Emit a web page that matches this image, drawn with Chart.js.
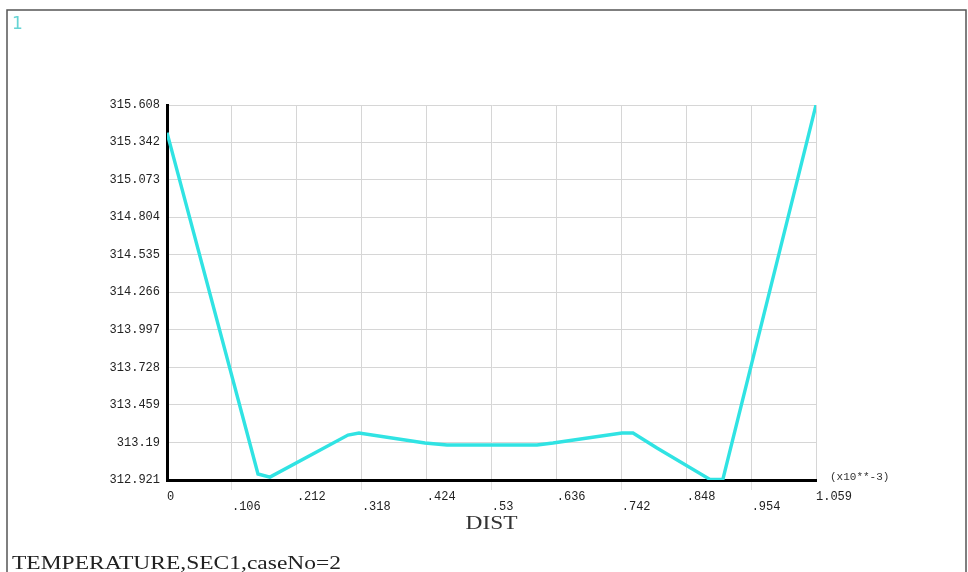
<!DOCTYPE html>
<html>
<head>
<meta charset="utf-8">
<script src="https://cdn.jsdelivr.net/npm/chart.js@4/dist/chart.umd.min.js"></script>
<style>
  html, body { margin: 0; padding: 0; background: #fff; }
  #wrap { width: 968px; height: 572px; position: relative; }
</style>
</head>
<body>
<div id="wrap"><canvas id="c" width="968" height="572"></canvas></div>
<script>
// Temperature along path SEC1 (distance in units of 1e-3)
const distValues   = [0, 0.1485, 0.168, 0.2953, 0.3133, 0.421, 0.4569, 0.6037, 0.6298, 0.7424, 0.7604, 0.7995, 0.886, 0.907, 1.059];
const temperatures = [315.41, 312.964, 312.942, 313.243, 313.258, 313.186, 313.172, 313.172, 313.186, 313.258, 313.258, 313.15, 312.925, 312.925, 315.608];

const xTickValues = [0, 0.106, 0.212, 0.318, 0.424, 0.53, 0.636, 0.742, 0.848, 0.954, 1.059];
const xTickLabels = ['0', '.106', '.212', '.318', '.424', '.53', '.636', '.742', '.848', '.954', '1.059'];
const yTickValues = [312.921, 313.19, 313.459, 313.728, 313.997, 314.266, 314.535, 314.804, 315.073, 315.342, 315.608];
const yTickLabels = ['312.921', '313.19', '313.459', '313.728', '313.997', '314.266', '314.535', '314.804', '315.073', '315.342', '315.608'];

const plotLabel   = '1';
const xAxisTitle  = 'DIST';
const xAxisScale  = '(x10**-3)';
const footerText  = 'TEMPERATURE,SEC1,caseNo=2';

const tickFont = { family: 'Liberation Mono', size: 12, lineHeight: 0.8 };

// Window frame and the annotation texts around the plot
const decorations = {
  id: 'decorations',
  afterDraw(chart) {
    const ctx = chart.ctx;
    const area = chart.chartArea;
    ctx.save();
    ctx.strokeStyle = '#555';
    ctx.lineWidth = 1.5;
    ctx.strokeRect(7, 10, 959, 580);

    ctx.fillStyle = '#66d4d4';
    ctx.font = '17px "DejaVu Sans"';
    ctx.textBaseline = 'alphabetic';
    ctx.textAlign = 'left';
    ctx.fillText(plotLabel, 12, 29);

    ctx.fillStyle = '#333';
    ctx.font = '11px "Liberation Mono"';
    ctx.textBaseline = 'middle';
    ctx.fillText(xAxisScale, area.right + 14, area.bottom - 3);

    // wide serif captions
    const wideText = (txt, size, x, y, width, align) => {
      ctx.font = size + 'px "Liberation Serif"';
      const w = ctx.measureText(txt).width;
      const k = width / w;
      ctx.save();
      ctx.translate(align === 'center' ? x - width / 2 : x, y);
      ctx.scale(k, 1);
      ctx.textAlign = 'left';
      ctx.textBaseline = 'alphabetic';
      ctx.fillText(txt, 0, 0);
      ctx.restore();
    };
    ctx.fillStyle = '#333';
    wideText(xAxisTitle, 18, (area.left + area.right) / 2, 529, 52, 'center');
    ctx.fillStyle = '#222';
    wideText(footerText, 18, 12, 569, 329, 'left');
    ctx.restore();
  }
};

new Chart(document.getElementById('c'), {
  type: 'scatter',
  data: {
    datasets: [{
      data: distValues.map((x, i) => ({ x, y: temperatures[i] })),
      showLine: true,
      borderColor: '#30e3e3',
      borderWidth: 3.4,
      pointRadius: 0,
      pointHoverRadius: 0,
      tension: 0
    }]
  },
  options: {
    responsive: false,
    devicePixelRatio: 1,
    animation: false,
    events: [],
    layout: { padding: { left: 0, top: 105, right: 152, bottom: 0 } },
    plugins: { legend: { display: false }, tooltip: { enabled: false }, title: { display: false } },
    scales: {
      x: {
        type: 'linear',
        min: 0,
        max: 1.059,
        afterBuildTicks: s => { s.ticks = xTickValues.map(v => ({ value: v })); },
        afterFit: s => { s.height = 92; },
        grid: {
          color: '#d6d6d6',
          lineWidth: 1,
          drawTicks: true,
          tickLength: 10,
          tickColor: c => (c.index % 2 ? '#e2e2e2' : 'rgba(0,0,0,0)')
        },
        border: { color: '#000', width: 3 },
        ticks: {
          autoSkip: false,
          maxRotation: 0,
          minRotation: 0,
          align: 'start',
          padding: 2,
          font: tickFont,
          color: '#222',
          callback: (v, i) => (i % 2 ? ['', xTickLabels[i]] : xTickLabels[i])
        }
      },
      y: {
        type: 'linear',
        min: 312.921,
        max: 315.608,
        afterBuildTicks: s => { s.ticks = yTickValues.map(v => ({ value: v })); },
        afterFit: s => { s.width = 167; },
        grid: { color: '#d6d6d6', lineWidth: 1, drawTicks: false },
        border: { color: '#000', width: 3 },
        ticks: {
          autoSkip: false,
          padding: 7,
          font: { family: 'Liberation Mono', size: 12 },
          color: '#222',
          callback: (v, i) => yTickLabels[i]
        }
      }
    }
  },
  plugins: [decorations]
});
</script>
</body>
</html>
